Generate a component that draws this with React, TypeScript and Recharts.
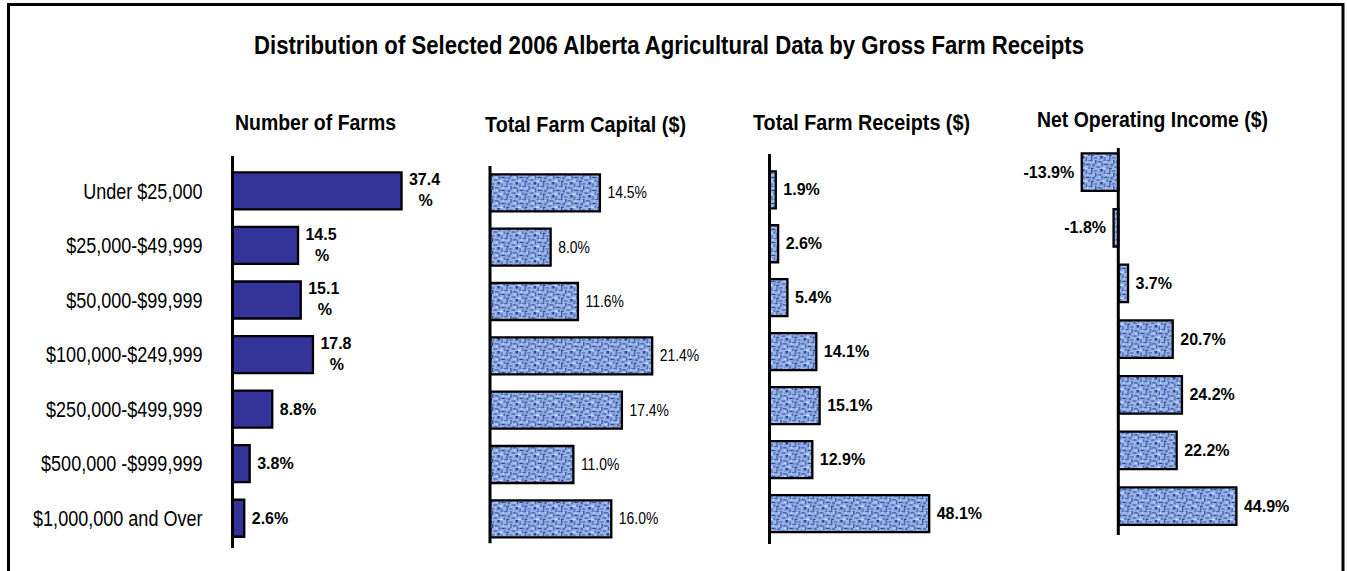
import React from 'react';
import { BarChart, Bar, XAxis, YAxis, ReferenceLine, LabelList } from 'recharts';

const categories = [
  'Under $25,000',
  '$25,000-$49,999',
  '$50,000-$99,999',
  '$100,000-$249,999',
  '$250,000-$499,999',
  '$500,000 -$999,999',
  '$1,000,000 and Over',
];
const farmsPct = [37.4, 14.5, 15.1, 17.8, 8.8, 3.8, 2.6];
const capitalPct = [14.5, 8.0, 11.6, 21.4, 17.4, 11.0, 16.0];
const receiptsPct = [1.9, 2.6, 5.4, 14.1, 15.1, 12.9, 48.1];
const incomePct = [-13.9, -1.8, 3.7, 20.7, 24.2, 22.2, 44.9];

const titleText = 'Distribution of Selected 2006 Alberta Agricultural Data by Gross Farm Receipts';
const panelTitles = ['Number of Farms', 'Total Farm Capital ($)', 'Total Farm Receipts ($)', 'Net Operating Income ($)'];

const ARIAL = "'Liberation Sans', Arial, Helvetica, sans-serif";
const NARROW_SCALE = 0.82;

const build = (vals: number[]) => categories.map((cat, i) => ({ cat, v: vals[i] }));

type LabelStyle = { size: number; weight: number | string; wrap: boolean; gap: number; narrow: boolean };

const makeLabel = (st: LabelStyle) => (props: any) => {
  const vb = props.viewBox || {};
  const x = Number(props.x ?? vb.x);
  const y = Number(props.y ?? vb.y);
  const w = Number(props.width ?? vb.width);
  const h = Number(props.height ?? vb.height);
  const value = Number(props.value);
  const left = Math.min(x, x + w);
  const right = Math.max(x, x + w);
  const cy = y + h / 2;
  const num = value.toFixed(1);
  const common = { fontFamily: ARIAL, fontSize: st.size, fontWeight: st.weight, fill: '#000' };
  const sx = st.narrow ? NARROW_SCALE : 1;
  if (st.wrap && value >= 10) {
    const cx = right + st.gap + 15.5;
    return (
      <text {...common} textAnchor="middle">
        <tspan x={cx} y={cy - 5.7}>{num}</tspan>
        <tspan x={cx + 1} y={cy + 15.3}>%</tspan>
      </text>
    );
  }
  if (value < 0) {
    return (
      <text {...common} transform={`translate(${left - st.gap},${cy + 5.5}) scale(${sx},1)`} x={0} y={0} textAnchor="end">{`${num}%`}</text>
    );
  }
  return (
    <text {...common} transform={`translate(${right + st.gap},${cy + 5.5}) scale(${sx},1)`} x={0} y={0} textAnchor="start">{`${num}%`}</text>
  );
};

const CategoryTick = (props: any) => {
  const { x, y, payload } = props;
  return (
    <text
      transform={`translate(${x},${y}) scale(${NARROW_SCALE},1)`}
      x={0}
      y={0}
      dy="0.36em"
      textAnchor="end"
      fontFamily={ARIAL}
      fontSize={22}
      fill="#000"
    >
      {payload.value}
    </text>
  );
};

type PanelProps = {
  data: { cat: string; v: number }[];
  left: number;
  width: number;
  plotLeft: number;
  domain: [number, number];
  scale: number;
  top: number;
  bottom: number;
  padTop: number;
  padBottom: number;
  fill: string;
  barSize: number;
  label: LabelStyle;
  showTicks?: boolean;
};

function Panel(p: PanelProps) {
  const plotWidth = (p.domain[1] - p.domain[0]) * p.scale;
  const axisW = p.showTicks ? p.plotLeft - p.left : 0;
  const margin = {
    top: p.top,
    bottom: 571 - p.bottom,
    left: p.showTicks ? 0 : p.plotLeft - p.left,
    right: p.width - (p.plotLeft - p.left) - plotWidth,
  };
  return (
    <div style={{ position: 'absolute', left: p.left, top: 0 }}>
      <BarChart width={p.width} height={571} data={p.data} layout="vertical" margin={margin}>
        <XAxis type="number" domain={p.domain} hide allowDataOverflow />
        <YAxis
          type="category"
          dataKey="cat"
          hide={!p.showTicks}
          width={axisW}
          padding={{ top: p.padTop, bottom: p.padBottom }}
          axisLine={false}
          tickLine={false}
          tickSize={0}
          tickMargin={30}
          interval={0}
          tick={<CategoryTick />}
        />
        <Bar dataKey="v" fill={p.fill} stroke="#000" strokeWidth={2.3} barSize={p.barSize} isAnimationActive={false}>
          <LabelList dataKey="v" content={makeLabel(p.label)} />
        </Bar>
        <ReferenceLine x={0} stroke="#000" strokeWidth={3} />
      </BarChart>
    </div>
  );
}

const boldLabel: LabelStyle = { size: 16, weight: 700, wrap: false, gap: 7.5, narrow: false };

export default function App() {
  return (
    <div style={{ position: 'absolute', left: 0, top: 0, width: 1347, height: 571, background: '#fff', overflow: 'hidden' }}>
      <svg width={1347} height={571} style={{ position: 'absolute', left: 0, top: 0 }}>
        <defs>
          <pattern id="burlap" width="14" height="10" patternUnits="userSpaceOnUse" patternTransform="scale(1.3)">
            <rect width="14" height="10" fill="#9ab4ea" />
            <rect x="0" y="0" width="1" height="4" fill="#3a5aa4" />
            <rect x="2" y="1" width="4" height="1" fill="#4c6cb6" />
            <rect x="7" y="0" width="2" height="2" fill="#27468c" />
            <rect x="10" y="1" width="1" height="3" fill="#405fa9" />
            <rect x="12" y="3" width="2" height="1" fill="#4c6cb6" />
            <rect x="3" y="3" width="1" height="3" fill="#27468c" />
            <rect x="5" y="4" width="3" height="1" fill="#3a5aa4" />
            <rect x="1" y="6" width="2" height="2" fill="#4c6cb6" />
            <rect x="8" y="5" width="1" height="3" fill="#3a5aa4" />
            <rect x="10" y="6" width="3" height="1" fill="#27468c" />
            <rect x="4" y="8" width="3" height="1" fill="#405fa9" />
            <rect x="12" y="8" width="1" height="2" fill="#3a5aa4" />
            <rect x="0" y="9" width="2" height="1" fill="#27468c" />
            <rect x="6" y="2" width="1" height="1" fill="#6d8dd0" />
            <rect x="13" y="6" width="1" height="2" fill="#6d8dd0" />
            <rect x="9" y="3" width="1" height="1" fill="#6d8dd0" />
            <rect x="5" y="1" width="1" height="1" fill="#d6e3fc" />
            <rect x="11" y="4" width="1" height="1" fill="#d6e3fc" />
            <rect x="6" y="6" width="1" height="1" fill="#d6e3fc" />
            <rect x="2" y="4" width="1" height="1" fill="#d6e3fc" />
            <rect x="9" y="9" width="2" height="1" fill="#d6e3fc" />
          </pattern>
        </defs>
        <path d="M8.5 571 V4.5 H1343 V571" fill="none" stroke="#000" strokeWidth={3} />
        <text x={254} y={53.5} fontFamily={ARIAL} fontWeight={700} fontSize={25} textLength={830} lengthAdjust="spacingAndGlyphs" fill="#000">
          {titleText}
        </text>
        <text x={235} y={130} fontFamily={ARIAL} fontWeight={700} fontSize={21.5} textLength={161} lengthAdjust="spacingAndGlyphs" fill="#000">
          {panelTitles[0]}
        </text>
        <text x={485} y={132} fontFamily={ARIAL} fontWeight={700} fontSize={21.5} textLength={201} lengthAdjust="spacingAndGlyphs" fill="#000">
          {panelTitles[1]}
        </text>
        <text x={753} y={130} fontFamily={ARIAL} fontWeight={700} fontSize={21.5} textLength={217} lengthAdjust="spacingAndGlyphs" fill="#000">
          {panelTitles[2]}
        </text>
        <text x={1037} y={127} fontFamily={ARIAL} fontWeight={700} fontSize={21.5} textLength={231} lengthAdjust="spacingAndGlyphs" fill="#000">
          {panelTitles[3]}
        </text>
      </svg>
      <Panel
        data={build(farmsPct)}
        left={0}
        width={470}
        plotLeft={232.5}
        domain={[0, 40]}
        scale={4.52}
        top={156}
        bottom={548}
        padTop={7.4}
        padBottom={2.7}
        fill="#333399"
        barSize={37}
        showTicks
        label={{ ...boldLabel, wrap: true }}
      />
      <Panel
        data={build(capitalPct)}
        left={470}
        width={260}
        plotLeft={490}
        domain={[0, 25]}
        scale={7.58}
        top={166}
        bottom={543.3}
        padTop={-0.7}
        padBottom={-2.4}
        fill="url(#burlap)"
        barSize={37}
        label={{ size: 17, weight: 400, wrap: false, gap: 7.5, narrow: true }}
      />
      <Panel
        data={build(receiptsPct)}
        left={740}
        width={270}
        plotLeft={769.5}
        domain={[0, 50]}
        scale={3.32}
        top={154}
        bottom={544}
        padTop={9.3}
        padBottom={3}
        fill="url(#burlap)"
        barSize={37}
        label={boldLabel}
      />
      <Panel
        data={build(incomePct)}
        left={1000}
        width={300}
        plotLeft={1065.7}
        domain={[-20, 50]}
        scale={2.63}
        top={148}
        bottom={535}
        padTop={-3.6}
        padBottom={1}
        fill="url(#burlap)"
        barSize={37.5}
        label={boldLabel}
      />
    </div>
  );
}
